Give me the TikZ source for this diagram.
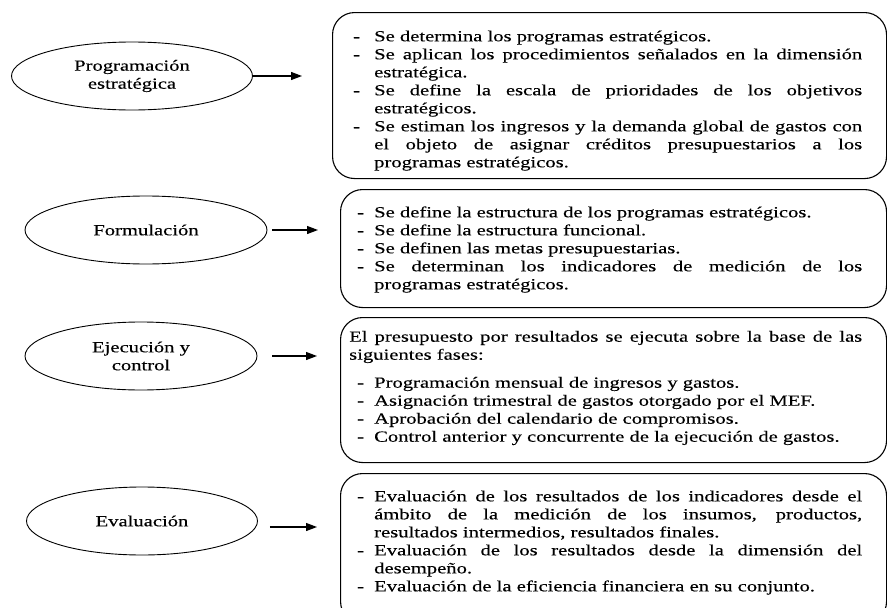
\documentclass[tikz,border=0pt]{standalone}
\usepackage{fontspec}
\setmainfont[FakeStretch=1.33, FakeBold=0.3]{Liberation Serif}
\usetikzlibrary{shapes.geometric,arrows.meta}

% item with a dash in front
\newcommand{\guion}[1][8pt]{\par\hangindent=25pt\hangafter=1\noindent\makebox[25pt][l]{\hspace*{#1}-}}

\begin{document}
\begin{tikzpicture}[x=1pt, y=-1pt,
  etapa/.style={ellipse, draw, line width=0.9pt, inner sep=0pt, align=center, minimum height=68pt, font=\fontsize{15.5}{18}\selectfont},
  caja/.style={rectangle, draw, line width=1.1pt, rounded corners=22pt, anchor=north west, minimum width=546pt},
  texto/.style={align=justify, text width=513pt, inner sep=0pt, anchor=west, font=\fontsize{15.5}{18}\selectfont},
  flecha/.style={-{Triangle[length=11pt, width=8pt]}, line width=1.2pt},
]
\useasboundingbox (0,0) rectangle (887,608);
\clip (0,0) rectangle (887,608);

% === Programacion estrategica ===
\node[etapa, minimum width=241pt] (e1) at (132,76) {Programación\\estratégica};
\node[caja, minimum width=554pt, minimum height=166pt] (c1) at (332,12) {};
\node[texto] (t1) at (349,97) {%
  \guion[4pt]Se determina los programas estratégicos.
  \guion[4pt]Se aplican los procedimientos señalados en la dimensión\linebreak estratégica.
  \guion[4pt]Se define la escala de prioridades de los objetivos\linebreak estratégicos.
  \guion[4pt]Se estiman los ingresos y la demanda global de gastos con\linebreak el objeto de asignar créditos presupuestarios a los\linebreak programas estratégicos.\par};
\draw[flecha, shorten >=30pt] (e1.east) -- (e1.east -| c1.west);

% === Formulacion ===
\node[etapa, minimum width=242pt] (e2) at (146,230) {Formulación};
\node[caja, minimum height=118pt] (c2) at (340,189) {};
\node[texto] (t2) at (349,246) {%
  \guion Se define la estructura de los programas estratégicos.
  \guion Se define la estructura funcional.
  \guion Se definen las metas presupuestarias.
  \guion Se determinan los indicadores de medición de los\linebreak programas estratégicos.\par};
\draw[flecha, shorten <=5pt, shorten >=22pt] (e2.east) -- (e2.east -| c2.west);

% === Ejecucion y control ===
\node[etapa, minimum width=232pt] (e3) at (141,356) {Ejecución y\\control};
\node[caja, minimum height=145pt] (c3) at (340,317) {};
\node[texto] (t3) at (349,388) {%
  \noindent El presupuesto por resultados se ejecuta sobre la base de las\linebreak siguientes fases:\par\vskip 10pt
  \guion Programación mensual de ingresos y gastos.
  \guion Asignación trimestral de gastos otorgado por el MEF.
  \guion Aprobación del calendario de compromisos.
  \guion Control anterior y concurrente de la ejecución de gastos.\par};
\draw[flecha, shorten <=15pt, shorten >=23pt] (e3.east) -- (e3.east -| c3.west);

% === Evaluacion ===
\node[etapa, minimum width=231pt] (e4) at (142,521) {Evaluación};
\node[caja, minimum height=150pt] (c4) at (340,473) {};
\node[texto] (t4) at (349,539) {%
  \guion Evaluación de los resultados de los indicadores desde el\linebreak ámbito de la medición de los insumos, productos,\linebreak resultados intermedios, resultados finales.
  \guion Evaluación de los resultados desde la dimensión del\linebreak desempeño.
  \guion Evaluación de la eficiencia financiera en su conjunto.\par};
\coordinate (p4) at ([yshift=-6pt]e4.east);
\draw[flecha, shorten <=12pt, shorten >=23pt] (p4) -- (p4 -| c4.west);

\end{tikzpicture}
\end{document}
